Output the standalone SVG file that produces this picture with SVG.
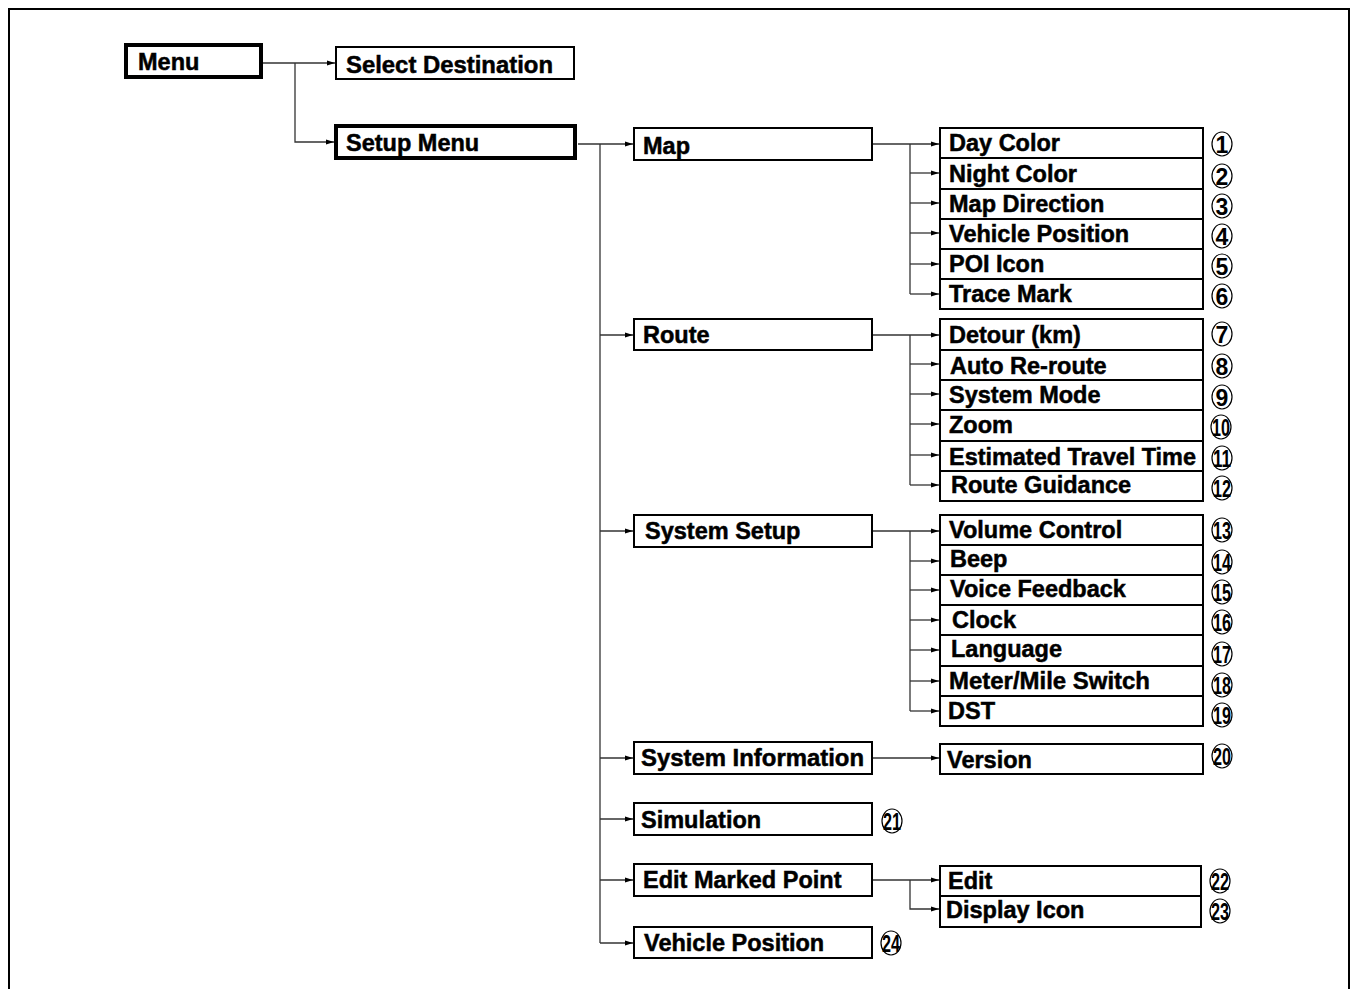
<svg xmlns="http://www.w3.org/2000/svg" width="1355" height="989" viewBox="0 0 1355 989">
<style>
.bx{fill:#fff;stroke:#000;stroke-width:2}
.bk{fill:#fff;stroke:#000;stroke-width:4}
.t{font-family:"Liberation Sans",Arial,sans-serif;font-weight:bold;font-size:23.5px;fill:#000;stroke:#000;stroke-width:0.5}
.c{fill:none;stroke:#333;stroke-width:1.3}
.n{font-family:"Liberation Sans",Arial,sans-serif;font-weight:bold;font-size:23px;fill:#000;text-anchor:middle}
.o{fill:#fff;stroke:#000;stroke-width:1.2}
</style>
<defs>
<marker id="ah" markerWidth="8" markerHeight="6" refX="8" refY="3" orient="auto" markerUnits="userSpaceOnUse"><path d="M0,0.6 L8,3 L0,5.4 z" fill="#000"/></marker>
</defs>
<rect x="0" y="0" width="1355" height="989" fill="#fff"/>
<rect x="9" y="9" width="1340" height="1010" fill="none" stroke="#000" stroke-width="2"/>

<g id="connectors">
<path class="c" d="M263,63 H335" marker-end="url(#ah)"/>
<path class="c" d="M295,63 V142 H334" marker-end="url(#ah)"/>
<path class="c" d="M578,144 H633" marker-end="url(#ah)"/>
<path class="c" d="M600,144 V943"/>
<path class="c" d="M600,335 H633" marker-end="url(#ah)"/>
<path class="c" d="M600,531 H633" marker-end="url(#ah)"/>
<path class="c" d="M600,758 H633" marker-end="url(#ah)"/>
<path class="c" d="M600,819 H633" marker-end="url(#ah)"/>
<path class="c" d="M600,880 H633" marker-end="url(#ah)"/>
<path class="c" d="M600,943 H633" marker-end="url(#ah)"/>
<path class="c" d="M873,144 H939" marker-end="url(#ah)"/>
<path class="c" d="M910,144 V294"/>
<path class="c" d="M910,173 H939" marker-end="url(#ah)"/>
<path class="c" d="M910,203 H939" marker-end="url(#ah)"/>
<path class="c" d="M910,233 H939" marker-end="url(#ah)"/>
<path class="c" d="M910,264 H939" marker-end="url(#ah)"/>
<path class="c" d="M910,294 H939" marker-end="url(#ah)"/>
<path class="c" d="M873,335 H939" marker-end="url(#ah)"/>
<path class="c" d="M910,335 V485"/>
<path class="c" d="M910,364 H939" marker-end="url(#ah)"/>
<path class="c" d="M910,394 H939" marker-end="url(#ah)"/>
<path class="c" d="M910,424 H939" marker-end="url(#ah)"/>
<path class="c" d="M910,455 H939" marker-end="url(#ah)"/>
<path class="c" d="M910,485 H939" marker-end="url(#ah)"/>
<path class="c" d="M873,531 H939" marker-end="url(#ah)"/>
<path class="c" d="M910,531 V711"/>
<path class="c" d="M910,561 H939" marker-end="url(#ah)"/>
<path class="c" d="M910,590 H939" marker-end="url(#ah)"/>
<path class="c" d="M910,620 H939" marker-end="url(#ah)"/>
<path class="c" d="M910,650 H939" marker-end="url(#ah)"/>
<path class="c" d="M910,681 H939" marker-end="url(#ah)"/>
<path class="c" d="M910,711 H939" marker-end="url(#ah)"/>
<path class="c" d="M873,758 H939" marker-end="url(#ah)"/>
<path class="c" d="M873,880 H939" marker-end="url(#ah)"/>
<path class="c" d="M910,880 V909 H939" marker-end="url(#ah)"/>
</g>

<g id="menu"><rect class="bk" x="126" y="45" width="135" height="32"/><text class="t" x="138" y="70">Menu</text></g>
<g id="select-destination"><rect class="bx" x="336" y="47" width="238" height="32"/><text class="t" x="346" y="73" textLength="207" lengthAdjust="spacingAndGlyphs">Select Destination</text></g>
<g id="setup-menu"><rect class="bk" x="336" y="126" width="239" height="32"/><text class="t" x="346" y="151">Setup Menu</text></g>

<g id="map"><rect class="bx" x="634" y="128" width="238" height="32"/><text class="t" x="643" y="154">Map</text></g>
<g id="route"><rect class="bx" x="634" y="319" width="238" height="31"/><text class="t" x="643" y="343">Route</text></g>
<g id="system-setup"><rect class="bx" x="634" y="515" width="238" height="32"/><text class="t" x="645" y="539">System Setup</text></g>
<g id="system-information"><rect class="bx" x="634" y="742" width="238" height="32"/><text class="t" x="641" y="766" textLength="223" lengthAdjust="spacingAndGlyphs">System Information</text></g>
<g id="simulation"><rect class="bx" x="634" y="803" width="238" height="32"/><text class="t" x="641" y="828">Simulation</text></g>
<g id="edit-marked-point"><rect class="bx" x="634" y="864" width="238" height="32"/><text class="t" x="643" y="888">Edit Marked Point</text></g>
<g id="vehicle-position-2"><rect class="bx" x="634" y="927" width="238" height="31"/><text class="t" x="644" y="951">Vehicle Position</text></g>

<g id="day-color"><rect class="bx" x="940" y="128" width="263" height="30"/><text class="t" x="949" y="151">Day Color</text></g>
<g id="night-color"><rect class="bx" x="940" y="158" width="263" height="31"/><text class="t" x="949" y="182">Night Color</text></g>
<g id="map-direction"><rect class="bx" x="940" y="189" width="263" height="30"/><text class="t" x="949" y="212">Map Direction</text></g>
<g id="vehicle-position"><rect class="bx" x="940" y="219" width="263" height="30"/><text class="t" x="949" y="242">Vehicle Position</text></g>
<g id="poi-icon"><rect class="bx" x="940" y="249" width="263" height="30"/><text class="t" x="949" y="272">POI Icon</text></g>
<g id="trace-mark"><rect class="bx" x="940" y="279" width="263" height="30"/><text class="t" x="949" y="302">Trace Mark</text></g>

<g id="detour"><rect class="bx" x="940" y="319" width="263" height="31"/><text class="t" x="949" y="343">Detour (km)</text></g>
<g id="auto-reroute"><rect class="bx" x="940" y="350" width="263" height="30"/><text class="t" x="950" y="374">Auto Re-route</text></g>
<g id="system-mode"><rect class="bx" x="940" y="380" width="263" height="30"/><text class="t" x="949" y="403">System Mode</text></g>
<g id="zoom"><rect class="bx" x="940" y="410" width="263" height="31"/><text class="t" x="949" y="433">Zoom</text></g>
<g id="estimated-travel-time"><rect class="bx" x="940" y="441" width="263" height="30"/><text class="t" x="949" y="465" textLength="247" lengthAdjust="spacingAndGlyphs">Estimated Travel Time</text></g>
<g id="route-guidance"><rect class="bx" x="940" y="471" width="263" height="30"/><text class="t" x="951" y="493">Route Guidance</text></g>

<g id="volume-control"><rect class="bx" x="940" y="515" width="263" height="30"/><text class="t" x="949" y="538">Volume Control</text></g>
<g id="beep"><rect class="bx" x="940" y="545" width="263" height="30"/><text class="t" x="950" y="567">Beep</text></g>
<g id="voice-feedback"><rect class="bx" x="940" y="575" width="263" height="30"/><text class="t" x="950" y="597">Voice Feedback</text></g>
<g id="clock"><rect class="bx" x="940" y="605" width="263" height="30"/><text class="t" x="952" y="628">Clock</text></g>
<g id="language"><rect class="bx" x="940" y="635" width="263" height="31"/><text class="t" x="951" y="657">Language</text></g>
<g id="meter-mile-switch"><rect class="bx" x="940" y="666" width="263" height="30"/><text class="t" x="949" y="689" textLength="201" lengthAdjust="spacingAndGlyphs">Meter/Mile Switch</text></g>
<g id="dst"><rect class="bx" x="940" y="696" width="263" height="30"/><text class="t" x="948" y="719">DST</text></g>

<g id="version"><rect class="bx" x="940" y="744" width="263" height="30"/><text class="t" x="947" y="768">Version</text></g>

<g id="edit"><rect class="bx" x="940" y="866" width="261" height="30"/><text class="t" x="948" y="889">Edit</text></g>
<g id="display-icon"><rect class="bx" x="940" y="896" width="261" height="31"/><text class="t" x="946" y="918">Display Icon</text></g>

<g id="numbers">
<g><ellipse class="o" cx="1222" cy="144" rx="10" ry="12"/><text class="n" x="1222" y="152.5">1</text></g>
<g><ellipse class="o" cx="1222" cy="176" rx="10" ry="12"/><text class="n" x="1222" y="184.5">2</text></g>
<g><ellipse class="o" cx="1222" cy="206" rx="10" ry="12"/><text class="n" x="1222" y="214.5">3</text></g>
<g><ellipse class="o" cx="1222" cy="236" rx="10" ry="12"/><text class="n" x="1222" y="244.5">4</text></g>
<g><ellipse class="o" cx="1222" cy="266" rx="10" ry="12"/><text class="n" x="1222" y="274.5">5</text></g>
<g><ellipse class="o" cx="1222" cy="296" rx="10" ry="12"/><text class="n" x="1222" y="304.5">6</text></g>
<g><ellipse class="o" cx="1222" cy="334" rx="10" ry="12"/><text class="n" x="1222" y="342.5">7</text></g>
<g><ellipse class="o" cx="1222" cy="366" rx="10" ry="12"/><text class="n" x="1222" y="374.5">8</text></g>
<g><ellipse class="o" cx="1222" cy="397" rx="10" ry="12"/><text class="n" x="1222" y="405.5">9</text></g>
<g><ellipse class="o" cx="1221" cy="427" rx="10" ry="12"/><text class="n" x="1221" y="435.5" textLength="18" lengthAdjust="spacingAndGlyphs">10</text></g>
<g><ellipse class="o" cx="1222" cy="458" rx="10" ry="12"/><text class="n" x="1222" y="466.5" textLength="18" lengthAdjust="spacingAndGlyphs">11</text></g>
<g><ellipse class="o" cx="1222" cy="488" rx="10" ry="12"/><text class="n" x="1222" y="496.5" textLength="18" lengthAdjust="spacingAndGlyphs">12</text></g>
<g><ellipse class="o" cx="1222" cy="530" rx="10" ry="12"/><text class="n" x="1222" y="538.5" textLength="18" lengthAdjust="spacingAndGlyphs">13</text></g>
<g><ellipse class="o" cx="1222" cy="562" rx="10" ry="12"/><text class="n" x="1222" y="570.5" textLength="18" lengthAdjust="spacingAndGlyphs">14</text></g>
<g><ellipse class="o" cx="1222" cy="592" rx="10" ry="12"/><text class="n" x="1222" y="600.5" textLength="18" lengthAdjust="spacingAndGlyphs">15</text></g>
<g><ellipse class="o" cx="1222" cy="622" rx="10" ry="12"/><text class="n" x="1222" y="630.5" textLength="18" lengthAdjust="spacingAndGlyphs">16</text></g>
<g><ellipse class="o" cx="1222" cy="654" rx="10" ry="12"/><text class="n" x="1222" y="662.5" textLength="18" lengthAdjust="spacingAndGlyphs">17</text></g>
<g><ellipse class="o" cx="1222" cy="685" rx="10" ry="12"/><text class="n" x="1222" y="693.5" textLength="18" lengthAdjust="spacingAndGlyphs">18</text></g>
<g><ellipse class="o" cx="1222" cy="715" rx="10" ry="12"/><text class="n" x="1222" y="723.5" textLength="18" lengthAdjust="spacingAndGlyphs">19</text></g>
<g><ellipse class="o" cx="1222" cy="756" rx="10" ry="12"/><text class="n" x="1222" y="764.5" textLength="18" lengthAdjust="spacingAndGlyphs">20</text></g>
<g><ellipse class="o" cx="892" cy="821" rx="10" ry="12"/><text class="n" x="892" y="829.5" textLength="18" lengthAdjust="spacingAndGlyphs">21</text></g>
<g><ellipse class="o" cx="1220" cy="881" rx="10" ry="12"/><text class="n" x="1220" y="889.5" textLength="18" lengthAdjust="spacingAndGlyphs">22</text></g>
<g><ellipse class="o" cx="1220" cy="911" rx="10" ry="12"/><text class="n" x="1220" y="919.5" textLength="18" lengthAdjust="spacingAndGlyphs">23</text></g>
<g><ellipse class="o" cx="891" cy="943" rx="10" ry="12"/><text class="n" x="891" y="951.5" textLength="18" lengthAdjust="spacingAndGlyphs">24</text></g>
</g>
</svg>
